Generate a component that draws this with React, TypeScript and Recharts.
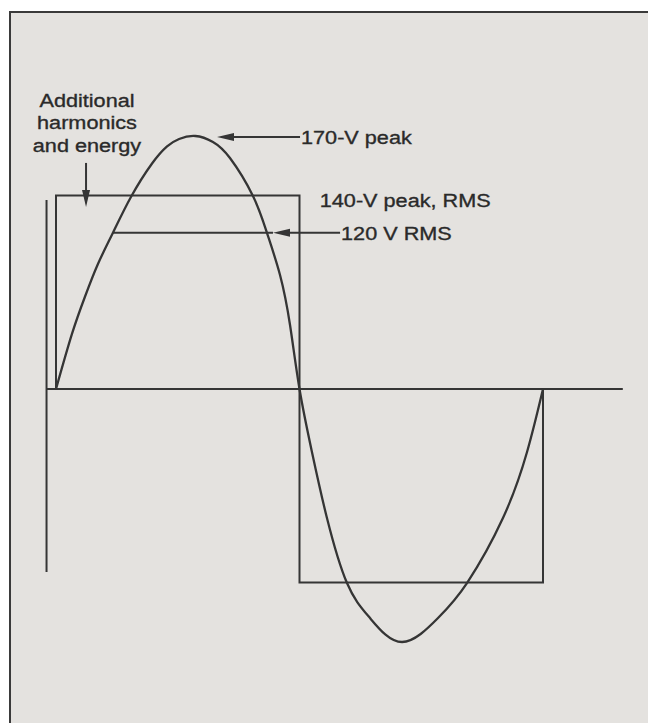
import { LineChart, Line, XAxis, YAxis, ReferenceLine, ReferenceDot } from "recharts";

// sine wave (x in degrees, y in volts)
const sineDegrees = [0, 11.8, 21.4, 31, 42.1, 55.4, 71, 82.1, 91, 103, 116, 128.6, 145.6, 156, 165.6, 173, 180, 189.2, 200.3, 215.1, 232.1, 255.8, 282.4, 303.8, 330.4, 348.2, 360];
const sineVolts = [0, 37, 62, 84, 105, 129, 151.5, 163, 168, 170, 166, 155.2, 129.7, 104.8, 76.6, 43, 0, -42.3, -86.7, -130.4, -153.9, -170, -153.9, -130.4, -86.7, -42.3, 0];

// square wave
const squareDegrees = [0, 0, 180, 180, 360, 360];
const squareVolts = [0, 130, 130, -130, -130, 0];

const rmsLevel = 105;

const harmonicsLines = ["Additional", "harmonics", "and energy"];
const peakText = "170-V peak";
const squareText = "140-V peak, RMS";
const rmsText = "120 V RMS";

const sineData = sineDegrees.map((x, i) => ({ x, v: sineVolts[i] }));
const squareData = squareDegrees.map((x, i) => ({ x, v: squareVolts[i] }));

const INK = "#353535";
const TEXT = "#2a2a2a";
const FONT = "'Liberation Sans', Arial, Helvetica, sans-serif";

const Caption = ({ x, y, text, anchor = "start" }: any) => (
  <text
    transform={`translate(${x},${y}) scale(1.14,1)`}
    textAnchor={anchor}
    fontFamily={FONT}
    fontSize={19}
    fill={TEXT}
    stroke={TEXT}
    strokeWidth={0.35}
  >
    {text}
  </text>
);

const arrow = (label?: string) => (props: any) => {
  const { x1, y1, x2, y2 } = props;
  const dx = x2 - x1;
  const dy = y2 - y1;
  const len = Math.hypot(dx, dy) || 1;
  const ux = dx / len;
  const uy = dy / len;
  const hl = 17;
  const hw = 4;
  const bx = x2 - ux * hl;
  const by = y2 - uy * hl;
  return (
    <g>
      <line x1={x1} y1={y1} x2={bx + ux * 2} y2={by + uy * 2} stroke={INK} strokeWidth={2} />
      <polygon
        points={`${x2},${y2} ${bx - uy * hw},${by + ux * hw} ${bx + uy * hw},${by - ux * hw}`}
        fill={INK}
      />
      {label ? <Caption x={x1 + 1} y={y1 + 7} text={label} /> : null}
    </g>
  );
};

export default function App() {
  return (
    <div style={{ position: "fixed", left: 0, top: 0, width: 648, height: 723, background: "#fff", overflow: "hidden" }}>
      {/* scanned page panel */}
      <div style={{ position: "absolute", left: 9, top: 11, width: 639, height: 712, background: "#e4e2df" }} />
      <div style={{ position: "absolute", left: 9, top: 11, width: 2, height: 712, background: "#3a3a3a" }} />
      <div style={{ position: "absolute", left: 9, top: 11, width: 639, height: 2, background: "#3a3a3a" }} />
      <div style={{ position: "absolute", left: 0, top: 0 }}>
        <LineChart width={648} height={723} margin={{ top: 16.94, right: 10.31, bottom: 36.35, left: 15.42 }}>
          <XAxis type="number" dataKey="x" domain={[-30, 430]} hide allowDataOverflow />
          <YAxis type="number" domain={[-200, 250]} hide allowDataOverflow />

          {/* axes */}
          <ReferenceLine segment={[{ x: -7, y: 127 }, { x: -7, y: -123 }]} stroke={INK} strokeWidth={2} ifOverflow="visible" />
          <ReferenceLine segment={[{ x: -7, y: 0 }, { x: 419, y: 0 }]} stroke={INK} strokeWidth={2} ifOverflow="visible" />

          {/* RMS level */}
          <ReferenceLine segment={[{ x: 42.1, y: rmsLevel }, { x: 160.4, y: rmsLevel }]} stroke={INK} strokeWidth={1.8} ifOverflow="visible" />

          <Line data={squareData} dataKey="v" type="linear" stroke={INK} strokeWidth={2} dot={false} activeDot={false} isAnimationActive={false} />
          <Line data={sineData} dataKey="v" type="natural" stroke={INK} strokeWidth={2.3} dot={false} activeDot={false} isAnimationActive={false} />

          {/* annotations */}
          <ReferenceLine segment={[{ x: 180.4, y: 169.4 }, { x: 119, y: 169.4 }]} shape={arrow(peakText)} ifOverflow="visible" />
          <ReferenceLine segment={[{ x: 210, y: rmsLevel }, { x: 160.4, y: rmsLevel }]} shape={arrow(rmsText)} ifOverflow="visible" />
          <ReferenceLine segment={[{ x: 22.2, y: 151.9 }, { x: 22.2, y: 122.3 }]} shape={arrow()} ifOverflow="visible" />
          <ReferenceDot
            x={22.9}
            y={151.9}
            r={0}
            ifOverflow="visible"
            shape={(p: any) => (
              <g>
                {harmonicsLines.map((t, i) => (
                  <Caption key={t} x={p.cx} y={p.cy - 56 + i * 22.5} text={t} anchor="middle" />
                ))}
              </g>
            )}
          />
          <ReferenceDot
            x={195}
            y={129}
            r={0}
            ifOverflow="visible"
            shape={(p: any) => <Caption x={p.cx} y={p.cy + 10} text={squareText} />}
          />
        </LineChart>
      </div>
    </div>
  );
}
